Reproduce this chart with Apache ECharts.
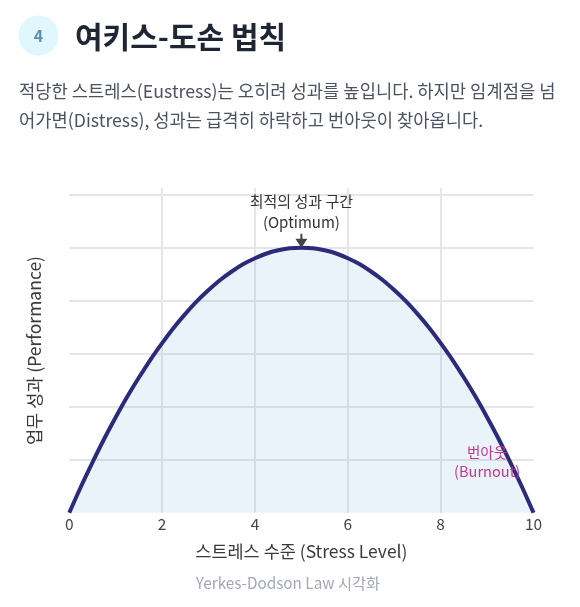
<!DOCTYPE html>
<html>
<head>
<meta charset="utf-8">
<script src="https://cdn.jsdelivr.net/npm/echarts@6/dist/echarts.min.js"></script>
<style>
html,body{margin:0;padding:0;background:#fff;}
#c{width:580px;height:607px;}
</style>
</head>
<body>
<div id="c"></div>
<script>
const stressLevels = [0,0.25,0.5,0.75,1,1.25,1.5,1.75,2,2.25,2.5,2.75,3,3.25,3.5,3.75,4,4.25,4.5,4.75,5,
                      5.25,5.5,5.75,6,6.25,6.5,6.75,7,7.25,7.5,7.75,8,8.25,8.5,8.75,9,9.25,9.5,9.75,10];
const performance  = [0,9.8,19,27.8,36,43.8,51,57.8,64,69.8,75,79.8,84,87.8,91,93.8,96,97.8,99,99.8,100,
                      99.8,99,97.8,96,93.8,91,87.8,84,79.8,75,69.8,64,57.8,51,43.8,36,27.8,19,9.8,0];
const xTicks = [0,2,4,6,8,10];
const optimumPoint = [5,100];
const burnoutPoint = [9,19];
const titleText = '여키스-도손 법칙';
const badgeText = '4';
const descLines = ['적당한 스트레스(Eustress)는 오히려 성과를 높입니다. 하지만 임계점을 넘','어가면(Distress), 성과는 급격히 하락하고 번아웃이 찾아옵니다.'];
const captionText = 'Yerkes-Dodson Law 시각화';

const FONT = "'Noto Sans CJK KR', 'Noto Sans', sans-serif";
const chart = echarts.init(document.getElementById('c'));
const pts = stressLevels.map((x,i)=>[x, performance[i]]);

chart.setOption({
  backgroundColor:'#ffffff',
  textStyle:{fontFamily:FONT},
  animation:false,
  graphic:[
    {type:'circle', shape:{cx:38.5, cy:35.5, r:20}, style:{fill:'#e0f7fd'}},
    {type:'text', x:38.5, y:36, style:{text:badgeText, fill:'#5a8db5', font:'bold 16px '+FONT, align:'center', verticalAlign:'middle'}},
    {type:'text', x:75, y:37, style:{text:titleText, fill:'#1f2633', font:'bold 30px '+FONT, align:'left', verticalAlign:'middle'}},
    {type:'text', x:19, y:91, style:{text:descLines[0], fill:'#4b5260', font:'17.7px '+FONT, align:'left', verticalAlign:'middle'}},
    {type:'text', x:19, y:120, style:{text:descLines[1], fill:'#4b5260', font:'17.7px '+FONT, align:'left', verticalAlign:'middle'}},
    {type:'text', x:288, y:583, style:{text:captionText, fill:'#a3a8b6', font:'15.3px '+FONT, align:'center', verticalAlign:'middle'}}
  ],
  grid:{left:69.3, right:46.5, top:188.3, bottom:94.3, outerBoundsMode:'none'},
  xAxis:{
    type:'value', min:xTicks[0], max:xTicks[xTicks.length-1], interval:2,
    name:'스트레스 수준 (Stress Level)', nameLocation:'middle', nameGap:30,
    nameTextStyle:{fontSize:17.5, color:'#3a3a3a', fontFamily:FONT},
    axisLine:{show:false}, axisTick:{show:false},
    axisLabel:{fontSize:15.5, color:'#444', margin:4, fontFamily:FONT},
    splitLine:{show:true, showMinLine:false, showMaxLine:false, lineStyle:{color:'#e6e6ea', width:2}}
  },
  yAxis:{
    type:'value', min:0, max:122.4, interval:20,
    name:'업무 성과 (Performance)', nameLocation:'middle', nameGap:26,
    nameTextStyle:{fontSize:17.5, color:'#3a3a3a', fontFamily:FONT},
    axisLine:{show:false}, axisTick:{show:false}, axisLabel:{show:false},
    splitLine:{show:true, showMinLine:false, showMaxLine:false, lineStyle:{color:'#e6e6ea', width:2}}
  },
  series:[{
    type:'line', data:pts, smooth:0.3, showSymbol:false,
    lineStyle:{color:'#2c2a7a', width:4},
    areaStyle:{color:'rgba(90,160,210,0.18)'},
    markPoint:{
      silent:true,
      data:[
        {coord:optimumPoint, symbol:'path://M5,0 L7,0 L7,5 L12,5 L6,14 L0,5 L5,5 Z', symbolSize:[12,14], symbolOffset:[0,'-50%'],
         itemStyle:{color:'#444'},
         label:{show:true, position:'top', distance:1, formatter:'최적의 성과 구간\n(Optimum)', color:'#333', fontSize:15, lineHeight:21, fontFamily:FONT}},
        {coord:burnoutPoint, symbol:'circle', symbolSize:1, itemStyle:{color:'rgba(0,0,0,0)'},
         label:{show:true, position:'inside', formatter:'번아웃\n(Burnout)', color:'#c4378a', fontSize:14.6, lineHeight:19, fontFamily:FONT}}
      ]
    }
  }]
});
</script>
</body>
</html>
